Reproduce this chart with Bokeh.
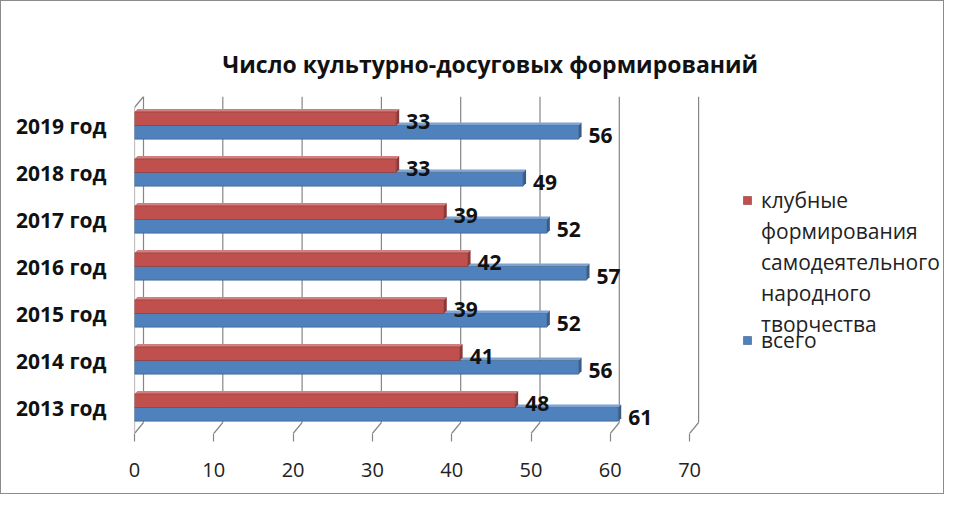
from bokeh.plotting import figure
from bokeh.models import (Legend, LegendItem, FixedTicker, Range1d)
from bokeh.core.properties import value
from bokeh.embed import file_html
from bokeh.resources import INLINE

years = ["2013 год", "2014 год", "2015 год", "2016 год", "2017 год", "2018 год", "2019 год"]
clubs = [48, 41, 39, 42, 39, 33, 33]
total = [61, 56, 52, 57, 52, 49, 56]
x_ticks = [0, 10, 20, 30, 40, 50, 60, 70]
title_text = "Число культурно-досуговых формирований"
legend_clubs = ["клубные", "формирования", "самодеятельного", "народного", "творчества"]
legend_total = "всего"

RED = "#C0504D"
RED_DARK = "#8C3836"
RED_TOP = "#D37F7D"
BLUE = "#4F81BD"
BLUE_DARK = "#385D8A"
GRID = "#868686"
FONT = "Open Sans"

W, H = 944, 494
PX_X = 7.93   # px per x unit
PX_Y = 47.0   # px per row
frame_left, frame_top = 133, 95
frame_w, frame_h = W - 2 - frame_left, 337

x0, x1 = 0, frame_w / PX_X
y0 = -0.553
y1 = y0 + frame_h / PX_Y

p = figure(width=W, height=H, output_backend="svg", toolbar_location=None,
           x_range=Range1d(x0, x1), y_range=Range1d(y0, y1),
           min_border_left=frame_left, min_border_top=frame_top,
           min_border_right=W - frame_left - frame_w,
           min_border_bottom=H - frame_top - frame_h)
p.outline_line_color = None
p.background_fill_color = "white"
p.border_fill_color = "white"
p.styles = {"border": "1px solid #8c8c8c"}
p.grid.visible = False

# depth offsets for 3-D look
ddx = 9 / PX_X
ddy = 11 / PX_Y
bdx = 3 / PX_X
bdy = 3 / PX_Y

# back wall grid lines
ys_back = y0 + ddy
p.segment(x0=[t + ddx for t in x_ticks], y0=[ys_back] * len(x_ticks),
          x1=[t + ddx for t in x_ticks], y1=[y1] * len(x_ticks),
          line_color=GRID, line_width=1.2)
# floor diagonals
p.segment(x0=x_ticks, y0=[y0] * len(x_ticks),
          x1=[t + ddx for t in x_ticks], y1=[ys_back] * len(x_ticks),
          line_color=GRID, line_width=1.2)
# left wall edge
p.line(x=[0, 0, ddx], y=[y0, y1 - ddy, y1], line_color=GRID, line_width=1.2)

rows = list(range(len(years)))
bh = 0.29
red_y = [r + bh / 2 for r in rows]
blue_y = [r - bh / 2 for r in rows]

def bar3d(vals, ys, col, dark, top):
    xs_t, ys_t, xs_s, ys_s = [], [], [], []
    for v, yc in zip(vals, ys):
        yb, yt = yc - bh / 2, yc + bh / 2
        xs_t.append([0, bdx, v + bdx, v])
        ys_t.append([yt, yt + bdy, yt + bdy, yt])
        xs_s.append([v, v + bdx, v + bdx, v])
        ys_s.append([yb, yb + bdy, yt + bdy, yt])
    p.patches(xs_t, ys_t, fill_color=top, line_color=None)
    r = p.hbar(y=ys, left=0, right=vals, height=bh, fill_color=col,
               line_color=dark, line_width=0.6)
    p.patches(xs_s, ys_s, fill_color=dark, line_color=None)
    return r

r_blue = bar3d(total, blue_y, BLUE, BLUE_DARK, "#7FA3D1")
r_red = bar3d(clubs, red_y, RED, RED_DARK, RED_TOP)

# invisible renderer for continuation lines of the legend label
r_blank = p.hbar(y=[], left=[], right=[], height=bh, fill_alpha=0, line_alpha=0)

# data labels
lab_dx = 10 / PX_X
lab_dy = -3 / PX_Y
for vals, ys in ((clubs, red_y), (total, blue_y)):
    p.text(x=[v + lab_dx for v in vals], y=[yy + lab_dy for yy in ys],
           text=[str(v) for v in vals], text_font=value(FONT), text_font_style="bold",
           text_font_size="21px", text_color="#111111", text_baseline="middle",
           text_align="left")

# axes
xa = p.xaxis[0]
xa.ticker = FixedTicker(ticks=x_ticks)
xa.axis_line_color = None
xa.major_tick_line_color = GRID
xa.major_tick_line_width = 1.2
xa.major_tick_out = 8
xa.major_tick_in = 0
xa.minor_tick_line_color = None
xa.major_label_text_font = FONT
xa.major_label_text_font_size = "20px"
xa.major_label_text_color = "#222222"
xa.major_label_standoff = 21

ya = p.yaxis[0]
ya.ticker = FixedTicker(ticks=rows)
ya.major_label_overrides = {r: y for r, y in zip(rows, years)}
ya.axis_line_color = None
ya.major_tick_line_color = None
ya.minor_tick_line_color = None
ya.major_label_text_font = FONT
ya.major_label_text_font_style = "bold"
ya.major_label_text_font_size = "21px"
ya.major_label_text_color = "#111111"
ya.major_label_standoff = 22

# title
p.title.text = title_text
p.title.text_font = FONT
p.title.text_font_size = "23px"
p.title.text_font_style = "bold"
p.title.text_color = "#111111"
p.title.align = "left"
p.title.offset = 88
p.title.standoff = 34

leg_style = dict(padding=0, margin=0, spacing=0,
                 border_line_color=None, background_fill_alpha=0,
                 glyph_width=10, glyph_height=10, label_standoff=9,
                 label_height=31, label_text_font=FONT, label_text_font_size="21px",
                 label_text_color="#222222", label_text_baseline="middle")

items_a = [LegendItem(label=legend_clubs[0], renderers=[r_red])] + \
          [LegendItem(label=t, renderers=[r_blank]) for t in legend_clubs[1:]]
legend_a = Legend(items=items_a, location=(608, 94), **leg_style)
legend_b = Legend(items=[LegendItem(label=legend_total, renderers=[r_blue])],
                  location=(608, 78), **leg_style)
p.add_layout(legend_a, "center")
p.add_layout(legend_b, "center")

open("out.html", "w").write(file_html(p, INLINE))
